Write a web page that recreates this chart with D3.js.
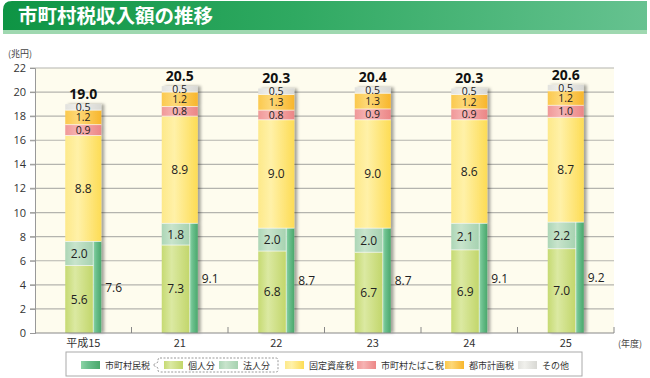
<!DOCTYPE html>
<html>
<head>
<meta charset="utf-8">
<script src="https://cdn.jsdelivr.net/npm/d3@7"></script>
<style>
  body { margin: 0; background: #fff; }
  svg { display: block; font-family: "Noto Sans CJK JP", "Noto Sans", sans-serif; }
</style>
</head>
<body>
<div id="chart"></div>
<script>
'use strict';

var years = ['平成15', '21', '22', '23', '24', '25'];
var kojin = [5.6, 7.3, 6.8, 6.7, 6.9, 7.0];
var hojin = [2.0, 1.8, 2.0, 2.0, 2.1, 2.2];
var shichosonmin = [7.6, 9.1, 8.7, 8.7, 9.1, 9.2];
var kotei = [8.8, 8.9, 9.0, 9.0, 8.6, 8.7];
var tabako = [0.9, 0.8, 0.8, 0.9, 0.9, 1.0];
var toshi = [1.2, 1.2, 1.3, 1.3, 1.2, 1.2];
var sonota = [0.5, 0.5, 0.5, 0.5, 0.5, 0.5];
var totals = [19.0, 20.5, 20.3, 20.4, 20.3, 20.6];
var yTicks = [0, 2, 4, 6, 8, 10, 12, 14, 16, 18, 20, 22];

var W = 650, H = 378;
var margin = {top: 68, right: 36, bottom: 45, left: 35};
var width = W - margin.left - margin.right;
var height = H - margin.top - margin.bottom;

var svg = d3.select('#chart').append('svg')
	.attr('width', W)
	.attr('height', H);

var defs = svg.append('defs');

function grad(id, c1, c2, c3){
	var g = defs.append('linearGradient').attr('id', id)
		.attr('x1', 0).attr('x2', 1).attr('y1', 0).attr('y2', 0);
	g.append('stop').attr('offset', '0%').attr('stop-color', c1);
	g.append('stop').attr('offset', '35%').attr('stop-color', c2);
	g.append('stop').attr('offset', '100%').attr('stop-color', c3);
}
grad('gKotei', '#fde98a', '#fff1a8', '#fddc55');
grad('gKojin', '#c6da72', '#dbe9a2', '#c2d66a');
grad('gHojin', '#acd6b6', '#c8e4cc', '#a6d2b0');
grad('gMin', '#8cd4a6', '#6cc08e', '#4aa86c');
grad('gTabako', '#f09898', '#f6b4b4', '#ec8686');
grad('gToshi', '#fbc94e', '#fdd878', '#f8b62c');
grad('gSonota', '#e2e2de', '#f0f0ec', '#d8d8d4');

var tg = defs.append('linearGradient').attr('id', 'gTitle')
	.attr('x1', 0).attr('x2', 1).attr('y1', 0).attr('y2', 0);
tg.append('stop').attr('offset', '0%').attr('stop-color', '#0e9444');
tg.append('stop').attr('offset', '45%').attr('stop-color', '#2fa961');
tg.append('stop').attr('offset', '100%').attr('stop-color', '#66c290');

var shadow = defs.append('filter').attr('id', 'shadow')
	.attr('x', '-20%').attr('y', '-5%').attr('width', '160%').attr('height', '110%');
shadow.append('feDropShadow').attr('dx', 3).attr('dy', 0).attr('stdDeviation', 1.8)
	.attr('flood-color', '#000').attr('flood-opacity', 0.35);

// title bar
svg.append('path')
	.attr('d', 'M3,30 L3,10 Q3,1 12,1 L647,1 L647,30 Z')
	.attr('fill', 'url(#gTitle)');
svg.append('rect').attr('x', 3).attr('y', 30).attr('width', 644).attr('height', 4)
	.attr('fill', '#9fd8b0');
svg.append('text')
	.attr('x', 18).attr('y', 23)
	.attr('fill', '#fff')
	.attr('font-size', 19.5)
	.attr('font-weight', 'bold')
	.text('市町村税収入額の推移');

var g = svg.append('g')
	.attr('transform', 'translate(' + margin.left + ',' + margin.top + ')');

var xScale = d3.scaleBand()
	.domain(years)
	.range([0, width])
	.padding(0);

var yScale = d3.scaleLinear()
	.domain([0, 22])
	.range([height, 0]);

g.append('rect')
	.attr('width', width).attr('height', height)
	.attr('fill', '#fefcee');

// grid
g.selectAll('line.grid').data(yTicks.slice(1))
	.enter().append('line')
	.attr('class', 'grid')
	.attr('x1', -5).attr('x2', width)
	.attr('y1', function(d){ return yScale(d); })
	.attr('y2', function(d){ return yScale(d); })
	.attr('stroke', '#b4b4ae').attr('stroke-width', 1.2);

var yAxis = d3.axisLeft(yScale).tickValues(yTicks).tickSize(5).tickPadding(4);
var yg = g.append('g').call(yAxis);
yg.select('.domain').attr('stroke', '#999');
yg.selectAll('.tick line').attr('stroke', '#999');
yg.selectAll('text').attr('font-size', 11).attr('fill', '#333')
	.attr('font-family', '"Open Sans", sans-serif');

// bottom boundary ticks
var bounds = years.map(function(d){ return xScale(d) + xScale.bandwidth(); });
g.selectAll('line.bt').data(bounds)
	.enter().append('line')
	.attr('class', 'bt')
	.attr('x1', function(d){ return d; }).attr('x2', function(d){ return d; })
	.attr('y1', height - 6).attr('y2', height)
	.attr('stroke', '#888');

// bars
var barW = 36, leftW = 28;
var bars = years.map(function(y, i){
	var base = shichosonmin[i];
	var segs = [
		{key: 'kotei', fill: 'url(#gKotei)', y0: base, y1: base + kotei[i], v: kotei[i]},
		{key: 'tabako', fill: 'url(#gTabako)', y0: base + kotei[i], y1: base + kotei[i] + tabako[i], v: tabako[i]},
		{key: 'toshi', fill: 'url(#gToshi)', y0: base + kotei[i] + tabako[i], y1: base + kotei[i] + tabako[i] + toshi[i], v: toshi[i]},
		{key: 'sonota', fill: 'url(#gSonota)', y0: base + kotei[i] + tabako[i] + toshi[i], y1: totals[i], v: sonota[i]}
	];
	return {name: y, i: i, segs: segs};
});

var stack = g.selectAll('g.stack').data(bars)
	.enter().append('g')
	.attr('class', 'stack')
	.attr('transform', function(d){
		return 'translate(' + (xScale(d.name) + xScale.bandwidth() / 2 - barW / 2) + ',0)';
	});

var body = stack.append('g').attr('filter', 'url(#shadow)');

body.selectAll('rect.seg').data(function(d){ return d.segs; })
	.enter().append('rect')
	.attr('class', 'seg')
	.attr('x', 0).attr('width', barW)
	.attr('y', function(d){ return yScale(d.y1); })
	.attr('height', function(d){ return yScale(d.y0) - yScale(d.y1); })
	.attr('fill', function(d){ return d.fill; });

body.append('rect')
	.attr('x', 0).attr('width', leftW)
	.attr('y', function(d){ return yScale(kojin[d.i]); })
	.attr('height', function(d){ return yScale(0) - yScale(kojin[d.i]); })
	.attr('fill', 'url(#gKojin)');

body.append('rect')
	.attr('x', 0).attr('width', leftW)
	.attr('y', function(d){ return yScale(shichosonmin[d.i]); })
	.attr('height', function(d){ return yScale(kojin[d.i]) - yScale(shichosonmin[d.i]); })
	.attr('fill', 'url(#gHojin)');

body.append('rect')
	.attr('x', leftW).attr('width', barW - leftW)
	.attr('y', function(d){ return yScale(shichosonmin[d.i]); })
	.attr('height', function(d){ return yScale(0) - yScale(shichosonmin[d.i]); })
	.attr('fill', 'url(#gMin)');

// thin white separators
stack.selectAll('line.sep').data(function(d){
		return d.segs.map(function(s){ return s.y0; });
	})
	.enter().append('line')
	.attr('class', 'sep')
	.attr('x1', 0).attr('x2', barW)
	.attr('y1', function(d){ return yScale(d); }).attr('y2', function(d){ return yScale(d); })
	.attr('stroke', '#fff').attr('stroke-width', 0.8).attr('opacity', 0.8);
stack.append('line')
	.attr('x1', 0).attr('x2', leftW)
	.attr('y1', function(d){ return yScale(kojin[d.i]); })
	.attr('y2', function(d){ return yScale(kojin[d.i]); })
	.attr('stroke', '#fff').attr('stroke-width', 0.8).attr('opacity', 0.8);
stack.append('line')
	.attr('x1', leftW).attr('x2', leftW)
	.attr('y1', function(d){ return yScale(shichosonmin[d.i]); })
	.attr('y2', yScale(0))
	.attr('stroke', '#fff').attr('stroke-width', 0.8).attr('opacity', 0.8);

var fmt = d3.format('.1f');
var lblFont = '"Open Sans", "Noto Sans", sans-serif';

stack.selectAll('text.seg').data(function(d){ return d.segs; })
	.enter().append('text')
	.attr('x', barW / 2)
	.attr('y', function(d){ return (yScale(d.y0) + yScale(d.y1)) / 2; })
	.attr('dy', '0.36em')
	.attr('text-anchor', 'middle')
	.attr('font-size', function(d){ return d.key === 'kotei' ? 12 : 10.5; })
	.attr('font-family', lblFont)
	.attr('fill', '#222')
	.text(function(d){ return fmt(d.v); });

stack.append('text')
	.attr('x', leftW / 2)
	.attr('y', function(d){ return yScale(kojin[d.i] / 2); })
	.attr('dy', '0.36em').attr('text-anchor', 'middle')
	.attr('font-size', 12).attr('font-family', lblFont).attr('fill', '#222')
	.text(function(d){ return fmt(kojin[d.i]); });

stack.append('text')
	.attr('x', leftW / 2)
	.attr('y', function(d){ return yScale((kojin[d.i] + shichosonmin[d.i]) / 2); })
	.attr('dy', '0.36em').attr('text-anchor', 'middle')
	.attr('font-size', 12).attr('font-family', lblFont).attr('fill', '#222')
	.text(function(d){ return fmt(hojin[d.i]); });

stack.append('text')
	.attr('x', barW + 4)
	.attr('y', function(d){ return yScale(shichosonmin[d.i] / 2); })
	.attr('dy', '0.36em')
	.attr('font-size', 12).attr('font-family', lblFont).attr('fill', '#222')
	.text(function(d){ return fmt(shichosonmin[d.i]); });

stack.append('text')
	.attr('x', barW / 2)
	.attr('y', function(d){ return yScale(totals[d.i]) - 5; })
	.attr('text-anchor', 'middle')
	.attr('font-size', 14).attr('font-weight', 'bold')
	.attr('font-family', lblFont).attr('fill', '#111')
	.text(function(d){ return fmt(totals[d.i]); });

// baseline
g.append('line')
	.attr('x1', 0).attr('x2', width)
	.attr('y1', height).attr('y2', height)
	.attr('stroke', '#888');

// x labels
var xAxis = d3.axisBottom(xScale).tickSize(0).tickPadding(6);
var xg = g.append('g').attr('transform', 'translate(0,' + height + ')').call(xAxis);
xg.select('.domain').remove();
xg.selectAll('text').attr('font-size', 11).attr('fill', '#333')
	.attr('font-family', '"Noto Sans CJK JP", sans-serif');

svg.append('text').attr('x', 618).attr('y', 347)
	.attr('font-size', 9).attr('fill', '#444').text('(年度)');
svg.append('text').attr('x', 8).attr('y', 57)
	.attr('font-size', 9).attr('fill', '#444').text('(兆円)');

// legend
var legend = svg.append('g');
legend.append('rect')
	.attr('x', 66).attr('y', 352).attr('width', 516).attr('height', 24)
	.attr('fill', '#fff').attr('stroke', '#aaa');
legend.append('path')
	.attr('d', 'M160,358 L276,358 Q278,358 278,360 L278,370 Q278,372 276,372 L160,372 Q158,372 158,370 L158,368 L153,365 L158,362 L158,360 Q158,358 160,358 Z')
	.attr('fill', 'none').attr('stroke', '#999').attr('stroke-dasharray', '2,1.5');

var legendItems = [
	{name: '市町村民税', fill: 'url(#gMin)', x: 81},
	{name: '個人分', fill: 'url(#gKojin)', x: 164},
	{name: '法人分', fill: 'url(#gHojin)', x: 219},
	{name: '固定資産税', fill: 'url(#gKotei)', x: 285},
	{name: '市町村たばこ税', fill: 'url(#gTabako)', x: 357},
	{name: '都市計画税', fill: 'url(#gToshi)', x: 445},
	{name: 'その他', fill: 'url(#gSonota)', x: 518}
];
var li = legend.selectAll('g.item').data(legendItems)
	.enter().append('g').attr('class', 'item')
	.attr('transform', function(d){ return 'translate(' + d.x + ',0)'; });
li.append('rect')
	.attr('y', 361).attr('width', 19).attr('height', 8)
	.attr('fill', function(d){ return d.fill; });
li.append('text')
	.attr('x', 24).attr('y', 368.5)
	.attr('font-size', 9).attr('fill', '#333')
	.text(function(d){ return d.name; });
</script>
</body>
</html>
